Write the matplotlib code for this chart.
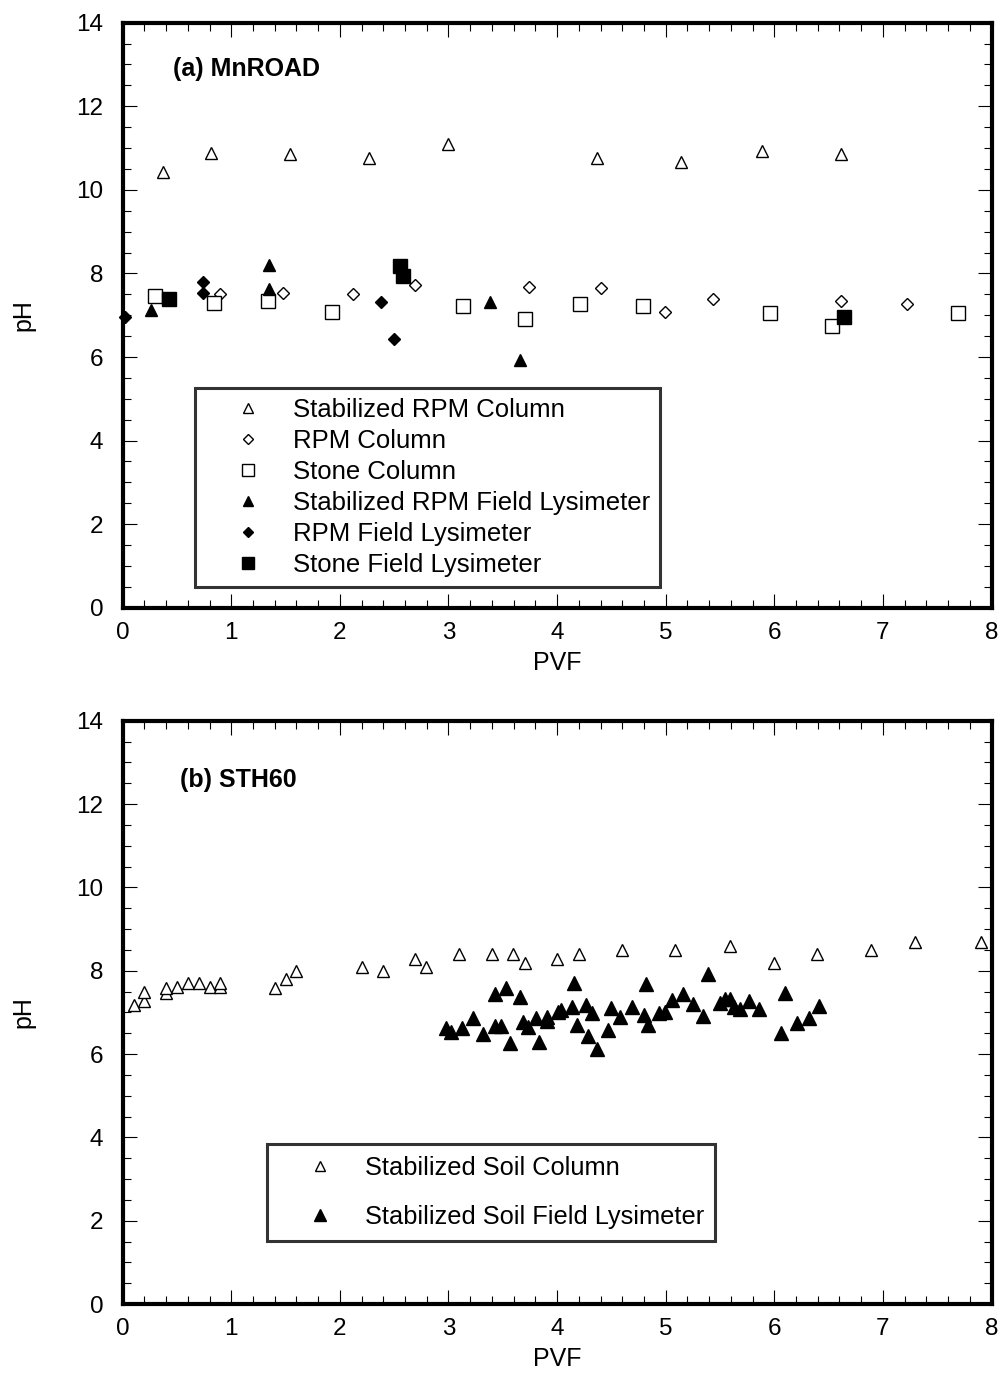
import numpy as np
import matplotlib
matplotlib.use('Agg')
from matplotlib import pyplot as plt
from matplotlib.ticker import MultipleLocator

plt.rcParams['font.family'] = ['Liberation Sans', 'DejaVu Sans']

# (a) MnROAD
stab_rpm_col_x = [0.37, 0.81, 1.54, 2.27, 3.00, 4.37, 5.14, 5.89, 6.61]
stab_rpm_col_y = [10.43, 10.87, 10.85, 10.77, 11.09, 10.77, 10.66, 10.92, 10.85]

rpm_col_x = [0.90, 1.48, 2.12, 2.69, 3.74, 4.40, 4.99, 5.44, 6.61, 7.22]
rpm_col_y = [7.50, 7.54, 7.51, 7.73, 7.68, 7.66, 7.07, 7.39, 7.35, 7.28]

stone_col_x = [0.30, 0.84, 1.34, 1.93, 3.13, 3.70, 4.21, 4.79, 5.96, 6.53, 7.69]
stone_col_y = [7.45, 7.30, 7.33, 7.07, 7.23, 6.90, 7.27, 7.21, 7.06, 6.74, 7.06]

stab_rpm_lys_x = [0.26, 1.35, 1.35, 3.38, 3.66]
stab_rpm_lys_y = [7.12, 8.19, 7.62, 7.31, 5.94]

rpm_lys_x = [0.02, 0.74, 0.74, 2.38, 2.50]
rpm_lys_y = [6.95, 7.80, 7.52, 7.32, 6.43]

stone_lys_x = [0.43, 2.55, 2.58, 6.64]
stone_lys_y = [7.39, 8.17, 7.94, 6.96]

# (b) STH60
soil_col_x = [0.10, 0.20, 0.20, 0.40, 0.40, 0.50, 0.60, 0.70, 0.80, 0.90, 0.90,
              1.40, 1.50, 1.60, 2.20, 2.40, 2.69, 2.79, 3.10, 3.40, 3.59, 3.70,
              4.00, 4.20, 4.60, 5.09, 5.59, 6.00, 6.39, 6.89, 7.30, 7.90]
soil_col_y = [7.18, 7.27, 7.50, 7.46, 7.59, 7.60, 7.70, 7.70, 7.60, 7.60, 7.70,
              7.59, 7.80, 7.99, 8.08, 7.99, 8.29, 8.08, 8.40, 8.40, 8.40, 8.19,
              8.29, 8.40, 8.50, 8.50, 8.60, 8.19, 8.40, 8.50, 8.69, 8.69]

soil_lys_x = [2.98, 3.02, 3.12, 3.23, 3.32, 3.43, 3.43, 3.48, 3.53, 3.57, 3.66,
              3.69, 3.73, 3.81, 3.83, 3.91, 3.91, 4.01, 4.04, 4.14, 4.16, 4.18,
              4.27, 4.28, 4.32, 4.37, 4.47, 4.50, 4.58, 4.69, 4.80, 4.82, 4.84,
              4.94, 4.99, 5.06, 5.16, 5.25, 5.34, 5.39, 5.50, 5.55, 5.59, 5.63,
              5.68, 5.77, 5.86, 6.06, 6.10, 6.21, 6.32, 6.41]
soil_lys_y = [6.63, 6.54, 6.63, 6.87, 6.47, 7.43, 6.67, 6.67, 7.58, 6.27, 7.37,
              6.77, 6.66, 6.86, 6.30, 6.90, 6.80, 7.02, 7.06, 7.14, 7.70, 6.70,
              7.18, 6.43, 6.98, 6.11, 6.58, 7.10, 6.90, 7.14, 6.94, 7.68, 6.70,
              6.98, 7.00, 7.30, 7.44, 7.20, 6.92, 7.92, 7.22, 7.31, 7.33, 7.14,
              7.08, 7.28, 7.09, 6.50, 7.47, 6.75, 6.86, 7.15]

fig = plt.figure(figsize=(10, 13.75), dpi=100)
ax1 = fig.add_axes([0.1227, 0.5580, 0.8688, 0.4255])
ax2 = fig.add_axes([0.1227, 0.0516, 0.8688, 0.4242])

open_kw = dict(ls='none', mfc='white', mec='black', mew=1.0, clip_on=False, zorder=5)
fill_kw = dict(ls='none', mfc='black', mec='black', mew=1.0, clip_on=False, zorder=5)


def style_axes(ax):
    ax.set_xlim(0, 8)
    ax.set_ylim(0, 14)
    ax.xaxis.set_major_locator(MultipleLocator(1))
    ax.xaxis.set_minor_locator(MultipleLocator(0.2))
    ax.yaxis.set_major_locator(MultipleLocator(2))
    ax.yaxis.set_minor_locator(MultipleLocator(0.5))
    ax.tick_params(which='both', direction='in', top=True, right=True,
                   width=0.8, labelsize=17.5)
    ax.tick_params(which='major', length=10)
    ax.tick_params(which='minor', length=5.5)
    ax.tick_params(axis='x', which='major', pad=10)
    ax.tick_params(axis='y', which='major', pad=14)
    for sp in ax.spines.values():
        sp.set_linewidth(3.0)
    ax.set_xlabel('PVF', fontsize=18, labelpad=5)
    ax.set_ylabel('pH', fontsize=18, labelpad=29)


def frame_legend(ax, anchor, size, pad, spacing):
    leg = ax.legend(loc='upper left', bbox_to_anchor=anchor, fontsize=size,
                    frameon=True, fancybox=False, markerscale=0.85,
                    handlelength=3.3, handletextpad=0.1, borderpad=pad,
                    labelspacing=spacing, borderaxespad=0)
    leg.get_frame().set_edgecolor('black')
    leg.get_frame().set_linewidth(2.2)
    return leg


ax1.plot(stab_rpm_col_x, stab_rpm_col_y, marker='^', ms=9, label='Stabilized RPM Column', **open_kw)
ax1.plot(rpm_col_x, rpm_col_y, marker='D', ms=6.5, label='RPM Column', **open_kw)
ax1.plot(stone_col_x, stone_col_y, marker='s', ms=9.5, label='Stone Column', **open_kw)
ax1.plot(stab_rpm_lys_x, stab_rpm_lys_y, marker='^', ms=9, label='Stabilized RPM Field Lysimeter', **fill_kw)
ax1.plot(rpm_lys_x, rpm_lys_y, marker='D', ms=6.5, label='RPM Field Lysimeter', **fill_kw)
ax1.plot(stone_lys_x, stone_lys_y, marker='s', ms=9.5, label='Stone Field Lysimeter', **fill_kw)
style_axes(ax1)
ax1.text(0.0575, 0.921, '(a) MnROAD', transform=ax1.transAxes, fontsize=18,
         fontweight='bold', ha='left', va='center')
frame_legend(ax1, (0.0832, 0.3756), 18.5, 0.4, 0.27)

ax2.plot(soil_col_x, soil_col_y, marker='^', ms=9, label='Stabilized Soil Column', **open_kw)
ax2.plot(soil_lys_x, soil_lys_y, marker='^', ms=9.5, label='Stabilized Soil Field Lysimeter', **fill_kw)
style_axes(ax2)
ax2.text(0.066, 0.898, '(b) STH60', transform=ax2.transAxes, fontsize=18,
         fontweight='bold', ha='left', va='center')
frame_legend(ax2, (0.1657, 0.2738), 18.3, 0.45, 1.0)

fig.savefig('out.png', dpi=100)
